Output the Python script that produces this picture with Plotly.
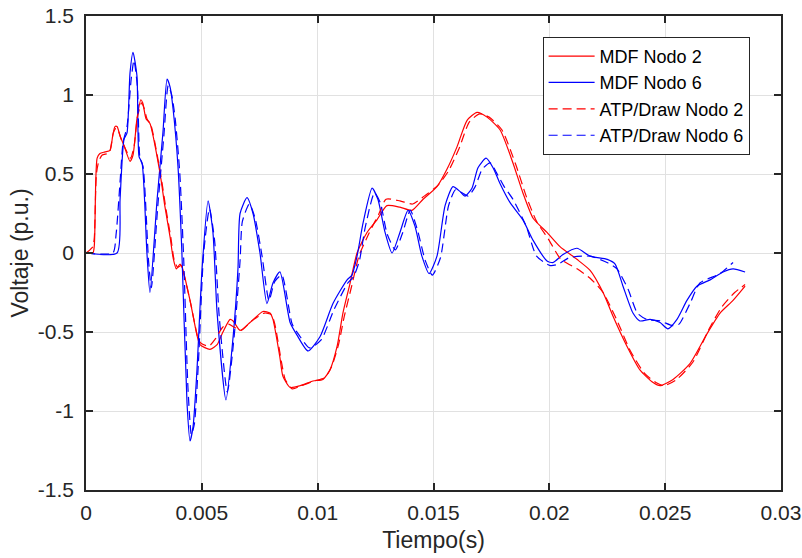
import plotly.graph_objects as go

# --- data (time in milliseconds, voltage in p.u.) ---
t_mdf2 = [0, 0.30, 0.36, 0.42, 0.48, 0.60, 0.82, 1.04, 1.15, 1.25, 1.34, 1.47, 1.64, 1.90, 2.03, 2.20, 2.37, 2.45,
          2.59, 2.76, 3.19, 3.40, 3.63, 3.76, 3.90, 4.06, 4.15, 4.49, 4.79, 4.92, 5.35, 5.66, 5.91, 6.22, 6.35, 6.65,
          7.08, 7.64, 7.94, 8.07, 8.37, 8.50, 8.81, 9.24, 9.80, 10.23, 10.53, 10.84, 11.09, 11.40, 11.70, 12.13,
          12.56, 12.99, 13.55, 14.07, 14.55, 15.15, 15.58, 16.01, 16.45, 16.88, 17.31, 17.87, 18.43, 18.86, 19.30,
          19.90, 20.46, 21.19, 21.76, 22.32, 22.75, 23.35, 23.91, 24.48, 24.78, 25.34, 26.07, 26.81, 27.37, 27.93,
          28.45]
v_mdf2 = [0, 0, 0.05, 0.45, 0.60, 0.63, 0.64, 0.65, 0.74, 0.80, 0.80, 0.74, 0.68, 0.58, 0.62, 0.85, 0.97, 0.95,
          0.85, 0.82, 0.51, 0.30, 0.10, -0.03, -0.10, -0.07, -0.09, -0.30, -0.52, -0.58, -0.61, -0.58, -0.50, -0.42,
          -0.43, -0.49, -0.44, -0.37, -0.38, -0.42, -0.66, -0.78, -0.85, -0.84, -0.81, -0.80, -0.74, -0.59, -0.38,
          -0.19, 0.00, 0.13, 0.21, 0.30, 0.29, 0.27, 0.34, 0.42, 0.53, 0.67, 0.84, 0.89, 0.86, 0.78, 0.57, 0.38,
          0.22, 0.13, 0.04, -0.04, -0.11, -0.25, -0.40, -0.59, -0.74, -0.82, -0.84, -0.80, -0.70, -0.51, -0.38,
          -0.30, -0.21]

t_mdf6 = [0, 1.34, 1.47, 1.64, 1.77, 1.90, 2.03, 2.20, 2.29, 2.42, 2.63, 2.76, 3.07, 3.32, 3.50, 3.63, 3.76, 3.97,
          4.14, 4.36, 4.49, 4.62, 4.79, 5.01, 5.27, 5.48, 5.66, 6.04, 6.35, 6.56, 6.65, 6.95, 7.21, 7.51, 7.81, 8.07,
          8.37, 8.81, 9.11, 9.58, 10.10, 10.66, 11.27, 11.48, 11.70, 11.96, 12.35, 12.60, 12.91, 13.21, 13.55, 13.90,
          14.20, 14.50, 14.81, 15.15, 15.50, 15.84, 16.14, 16.36, 16.66, 16.92, 17.27, 17.57, 17.87, 18.30, 18.86,
          19.30, 19.90, 20.16, 20.59, 21.19, 21.76, 22.50, 22.84, 23.18, 23.61, 23.91, 24.35, 24.78, 25.12, 25.51,
          25.94, 26.37, 26.94, 27.50, 27.93, 28.45]
v_mdf6 = [0, 0, 0.34, 0.72, 0.76, 1.14, 1.27, 1.12, 0.61, 0.57, 0.00, -0.25, 0.34, 0.76, 1.10, 1.05, 0.91, 0.55,
          0.00, -0.95, -1.19, -1.10, -0.74, -0.10, 0.33, 0.13, -0.38, -0.93, -0.53, -0.10, 0.25, 0.35, 0.25, 0.00,
          -0.32, -0.19, -0.12, -0.44, -0.52, -0.62, -0.53, -0.32, -0.17, -0.14, -0.02, 0.19, 0.41, 0.34, 0.13, 0.00,
          0.13, 0.27, 0.17, -0.02, -0.13, -0.02, 0.30, 0.42, 0.39, 0.36, 0.41, 0.54, 0.60, 0.54, 0.44, 0.32, 0.21,
          0.08, -0.05, -0.06, -0.01, 0.03, -0.02, -0.04, -0.07, -0.21, -0.38, -0.43, -0.42, -0.44, -0.48, -0.42,
          -0.30, -0.21, -0.17, -0.12, -0.10, -0.12]

t_atp2 = [0, 0.17, 0.30, 0.36, 0.45, 0.55, 0.70, 0.95, 1.04, 1.18, 1.29, 1.38, 1.52, 1.70, 1.92, 2.08, 2.22, 2.40,
          2.50, 2.63, 2.80, 3.22, 3.45, 3.66, 3.80, 3.95, 4.10, 4.20, 4.52, 4.82, 4.95, 5.30, 5.60, 5.90, 6.15, 6.40,
          6.70, 7.15, 7.70, 8.00, 8.15, 8.45, 8.60, 8.90, 9.30, 9.85, 10.30, 10.60, 10.90, 11.15, 11.45, 11.78,
          12.20, 12.65, 12.95, 13.55, 14.10, 14.60, 15.20, 15.65, 16.10, 16.55, 17.00, 17.40, 17.95, 18.55, 19.00,
          19.45, 19.95, 20.50, 21.20, 21.76, 22.32, 22.90, 23.50, 24.10, 24.60, 24.95, 25.50, 26.20, 26.90, 27.45,
          28.00, 28.45]
v_atp2 = [0, 0.02, 0.04, 0.10, 0.50, 0.58, 0.62, 0.63, 0.65, 0.76, 0.79, 0.78, 0.72, 0.66, 0.60, 0.68, 0.86, 0.95,
          0.92, 0.85, 0.81, 0.50, 0.28, 0.10, -0.04, -0.09, -0.08, -0.12, -0.32, -0.53, -0.57, -0.59, -0.54, -0.47,
          -0.45, -0.47, -0.49, -0.43, -0.38, -0.39, -0.45, -0.70, -0.80, -0.86, -0.84, -0.81, -0.79, -0.72, -0.58,
          -0.40, -0.22, -0.02, 0.12, 0.25, 0.34, 0.33, 0.31, 0.36, 0.43, 0.52, 0.66, 0.83, 0.88, 0.86, 0.78, 0.56,
          0.36, 0.20, 0.09, -0.04, -0.10, -0.16, -0.25, -0.42, -0.62, -0.76, -0.82, -0.84, -0.80, -0.69, -0.48,
          -0.34, -0.25, -0.20]

t_atp6 = [0, 1.16, 1.30, 1.47, 1.60, 1.77, 1.95, 2.07, 2.22, 2.33, 2.46, 2.70, 2.82, 3.10, 3.36, 3.55, 3.70, 3.85,
          4.05, 4.22, 4.40, 4.55, 4.68, 4.85, 5.08, 5.33, 5.55, 5.75, 6.10, 6.40, 6.65, 6.75, 7.05, 7.30, 7.60, 7.90,
          8.15, 8.45, 8.90, 9.20, 9.65, 10.15, 10.70, 11.30, 11.55, 11.80, 12.05, 12.45, 12.70, 13.00, 13.35, 13.65,
          14.00, 14.30, 14.65, 14.95, 15.30, 15.65, 15.95, 16.25, 16.50, 16.80, 17.10, 17.45, 17.75, 18.05, 18.43,
          19.00, 19.45, 20.05, 20.40, 20.85, 21.75, 22.49, 22.92, 23.40, 23.80, 24.20, 24.78, 25.34, 25.60, 26.07,
          26.50, 27.37, 27.93]
v_atp6 = [0, 0, 0.12, 0.45, 0.70, 0.80, 1.10, 1.22, 1.05, 0.60, 0.55, -0.05, -0.22, 0.30, 0.74, 1.06, 1.00, 0.85,
          0.50, -0.05, -0.85, -1.15, -1.08, -0.70, 0.00, 0.28, 0.08, -0.40, -0.88, -0.52, -0.05, 0.20, 0.31, 0.22,
          -0.02, -0.30, -0.18, -0.14, -0.45, -0.52, -0.60, -0.55, -0.36, -0.19, -0.15, -0.05, 0.16, 0.38, 0.32, 0.12,
          0.02, 0.12, 0.27, 0.15, -0.05, -0.14, -0.03, 0.30, 0.40, 0.38, 0.36, 0.42, 0.53, 0.57, 0.50, 0.42, 0.34,
          0.17, -0.02, -0.08, -0.07, -0.03, -0.02, -0.06, -0.10, -0.23, -0.38, -0.42, -0.43, -0.46, -0.45, -0.32,
          -0.19, -0.13, -0.06]

x_ticks = [0, 0.005, 0.01, 0.015, 0.02, 0.025, 0.03]
x_labels = ["0", "0.005", "0.01", "0.015", "0.02", "0.025", "0.03"]
y_ticks = [-1.5, -1, -0.5, 0, 0.5, 1, 1.5]
y_labels = ["-1.5", "-1", "-0.5", "0", "0.5", "1", "1.5"]

series = [
    ("MDF Nodo 2", t_mdf2, v_mdf2, "#ff0000", "solid"),
    ("MDF Nodo 6", t_mdf6, v_mdf6, "#0000ff", "solid"),
    ("ATP/Draw Nodo 2", t_atp2, v_atp2, "#ff0000", "9px,5px"),
    ("ATP/Draw Nodo 6", t_atp6, v_atp6, "#0000ff", "9px,5px"),
]

fig = go.Figure()
for name, t, v, col, dash in series:
    fig.add_trace(go.Scatter(
        x=[ti / 1000.0 for ti in t], y=v, name=name, mode="lines",
        line=dict(color=col, width=1.2, dash=dash, shape="spline", smoothing=0.6),
    ))

FONT = "Liberation Sans, Arial, sans-serif"
TXT = "#262626"
axis_common = dict(
    showline=True, linecolor=TXT, linewidth=1.5, mirror="ticks",
    ticks="inside", ticklen=7, tickwidth=1.5, tickcolor=TXT,
    showgrid=True, gridcolor="#e1e1e1", gridwidth=1, zeroline=False,
    tickfont=dict(family=FONT, size=21, color=TXT),
    automargin=False,
)
fig.update_layout(
    width=802, height=558,
    margin=dict(l=86, r=21, t=16, b=68),
    paper_bgcolor="white", plot_bgcolor="white",
    font=dict(family=FONT, color=TXT),
    showlegend=True,
    legend=dict(
        x=0.657, y=0.956, xanchor="left", yanchor="top",
        bgcolor="white", bordercolor=TXT, borderwidth=1,
        font=dict(family=FONT, size=18, color="#000000"),
        itemwidth=46, tracegroupgap=0,
    ),
)
fig.update_xaxes(
    range=[0, 0.03], tickvals=x_ticks, ticktext=x_labels,
    title=dict(text="Tiempo(s)", font=dict(family=FONT, size=23, color=TXT), standoff=9),
    ticklabelstandoff=3,
    **axis_common,
)
fig.update_yaxes(
    range=[-1.5, 1.5], tickvals=y_ticks, ticktext=y_labels,
    title=dict(text="Voltaje (p.u.)", font=dict(family=FONT, size=23, color=TXT), standoff=3),
    ticklabelstandoff=6,
    **axis_common,
)

fig.write_html("out.html")
